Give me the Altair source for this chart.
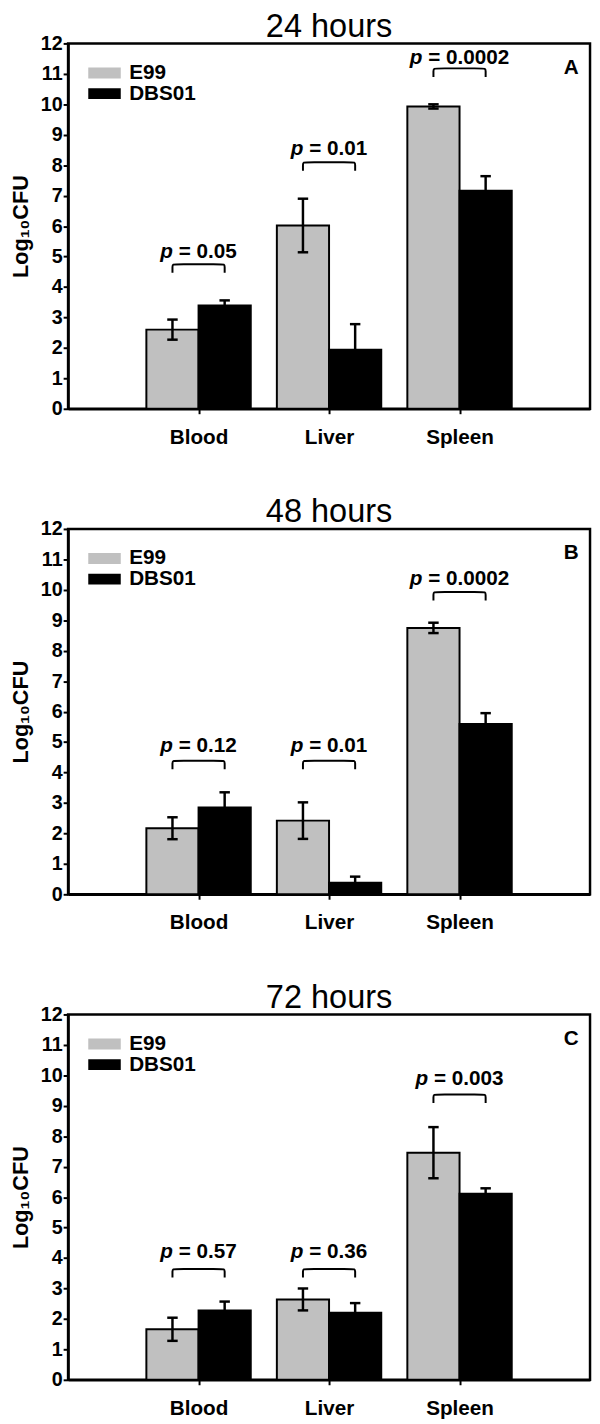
import json
import altair as alt
import pandas as pd

# ---------------- data ----------------
categories = ["Blood", "Liver", "Spleen"]
strains = ["E99", "DBS01"]
panel_titles = ["24 hours", "48 hours", "72 hours"]
panel_letters = ["A", "B", "C"]

e99_mean = [[2.60, 6.02, 9.93], [2.17, 2.42, 8.75], [1.66, 2.64, 7.46]]
e99_sem = [[0.33, 0.88, 0.07], [0.36, 0.60, 0.17], [0.38, 0.36, 0.84]]
dbs01_mean = [[3.39, 1.94, 7.16], [2.85, 0.38, 5.59], [2.28, 2.20, 6.11]]
dbs01_sem = [[0.17, 0.84, 0.48], [0.50, 0.20, 0.36], [0.29, 0.32, 0.18]]

p_values = [["0.05", "0.01", "0.0002"], ["0.12", "0.01", "0.0002"], ["0.57", "0.36", "0.003"]]
bracket_y = [[4.75, 8.10, 11.18], [4.39, 4.39, 9.93], [3.64, 3.64, 9.37]]
pvalue_y = [[5.16, 8.54, 11.53], [4.86, 4.86, 10.35], [4.18, 4.18, 9.87]]

y_ticks = list(range(0, 13))

# ---------------- layout / style ----------------
W, H = 530, 371
FONT = "Liberation Sans"
BAR = 0.4          # bar width in category units
CAP = 0.04         # half cap width
PFS = 21           # p-value font size
GRAY = "#c0c0c0"
px_per_unit = W / 4.0

# Arial-bold character widths (em) for centring the two-part p label
CW = {"p": 0.611, " ": 0.278, "=": 0.584, ".": 0.278}
for d in "0123456789":
    CW[d] = 0.556


def tw(s):
    return sum(CW.get(c, 0.556) for c in s) * PFS


xscale = alt.Scale(domain=[0, 4], nice=False, zero=False)
yscale = alt.Scale(domain=[0, 12], nice=False)
label_expr = json.dumps([""] + categories) + "[datum.value]"

XAXIS = alt.Axis(values=[1, 2, 3], labelExpr=label_expr, title=None, grid=False,
                 labelFontSize=21, labelPadding=13)
YAXIS = alt.Axis(values=y_ticks, title="Log₁₀CFU", grid=False, labelFontSize=20,
                 labelPadding=1, titlePadding=8, titleFontSize=22)


def X(field):
    return alt.X(field, scale=xscale, axis=XAXIS, title=None)


def Y(field):
    return alt.Y(field, scale=yscale, axis=YAXIS, title="Log₁₀CFU")


def panel(k):
    bars, caps, br, txt = [], [], [], []
    for i, cat in enumerate(categories):
        idx = i + 1
        for s, m, e, off in [("E99", e99_mean[k][i], e99_sem[k][i], -BAR),
                             ("DBS01", dbs01_mean[k][i], dbs01_sem[k][i], 0.0)]:
            x0 = idx + off
            xc = x0 + BAR / 2
            bars.append(dict(category=cat, strain=s, x0=x0, x1=x0 + BAR, xc=xc,
                             mean=m, lo=m - e, hi=m + e, base=0.0))
            for yv in (m - e, m + e):
                caps.append(dict(cl=xc - CAP, cr=xc + CAP, y=yv))
        # bracket
        yb = bracket_y[k][i]
        xa, xb = idx - BAR / 2, idx + BAR / 2
        pts = [(xa, yb - 0.28), (xa, yb - 0.08), (xa, yb), (xa + 0.04, yb),
               (xb - 0.04, yb), (xb, yb), (xb, yb - 0.08), (xb, yb - 0.28)]
        for j, (px, py) in enumerate(pts):
            br.append(dict(ann=cat, order=j, x=px, y=py))
        # p label
        rest = "= " + p_values[k][i]
        total = tw("p") + tw(" ") + tw(rest)
        left = -total / 2
        xp = idx + (left + tw("p") / 2) / px_per_unit
        xr = idx + (left + tw("p") + tw(" ") + tw(rest) / 2) / px_per_unit
        txt.append(dict(xp=xp, xr=xr, y=pvalue_y[k][i], rest=rest))

    df = pd.DataFrame(bars)
    cdf = pd.DataFrame(caps)
    bdf = pd.DataFrame(br)
    tdf = pd.DataFrame(txt)

    bar_layer = alt.Chart(df).mark_bar(stroke="black", strokeWidth=2).encode(
        x=X("x0:Q"),
        x2="x1:Q",
        y=Y("mean:Q"),
        y2="base:Q",
        color=alt.Color("strain:N",
                        scale=alt.Scale(domain=strains, range=[GRAY, "#000000"]),
                        legend=alt.Legend(title=None, orient="none", legendX=26, legendY=19,
                                          symbolType="M-1.5,-0.5H1.5V0.5H-1.5Z",
                                          symbolSize=484, symbolStrokeWidth=0,
                                          labelFontSize=21, labelFontWeight="bold",
                                          labelFont=FONT, labelColor="black",
                                          labelOffset=14, rowPadding=0)),
    )

    err = alt.Chart(df).mark_rule(color="black", strokeWidth=2.5).encode(
        x=X("xc:Q"), y=Y("lo:Q"), y2="hi:Q",
    )
    cap = alt.Chart(cdf).mark_rule(color="black", strokeWidth=2.5).encode(
        x=X("cl:Q"), x2="cr:Q", y=Y("y:Q"),
    )
    bracket = alt.Chart(bdf).mark_line(color="black", strokeWidth=2,
                                       interpolate="basis").encode(
        x=X("x:Q"), y=Y("y:Q"), detail="ann:N", order="order:Q",
    )
    ptext = alt.Chart(tdf).mark_text(fontSize=PFS, fontWeight="bold", fontStyle="italic",
                                     font=FONT, color="black", baseline="middle",
                                     align="center").encode(
        x=X("xp:Q"), y=Y("y:Q"), text=alt.value("p"),
    )
    rtext = alt.Chart(tdf).mark_text(fontSize=PFS, fontWeight="bold",
                                     font=FONT, color="black", baseline="middle",
                                     align="center").encode(
        x=X("xr:Q"), y=Y("y:Q"), text="rest:N",
    )
    letter = alt.Chart(pd.DataFrame({"t": [panel_letters[k]]})).mark_text(
        fontSize=21, fontWeight="bold", font=FONT, color="black",
        baseline="middle", align="center").encode(
        x=alt.value(W - 19), y=alt.value(25), text="t:N")

    return alt.layer(bar_layer, err, cap, bracket, ptext, rtext, letter).properties(
        width=W, height=H,
        title=alt.TitleParams(panel_titles[k], fontSize=33, fontWeight="normal",
                              font=FONT, color="black", offset=-10, anchor="middle"),
    )


chart = alt.vconcat(*[panel(k) for k in range(3)], spacing=46).resolve_legend(
    color="independent"
).properties(padding={"left": 0, "top": -10, "right": 0, "bottom": 0},
             background="white").configure_view(
    stroke="black", strokeWidth=2.5
).configure_axis(
    labelFont=FONT, titleFont=FONT, labelFontWeight="bold", titleFontWeight="bold",
    labelColor="black", titleColor="black", tickColor="black", tickWidth=2,
    tickSize=5, domainColor="black", domainWidth=2.5,
)

chart.save("out.html", embed_options={"renderer": "svg", "actions": False})
